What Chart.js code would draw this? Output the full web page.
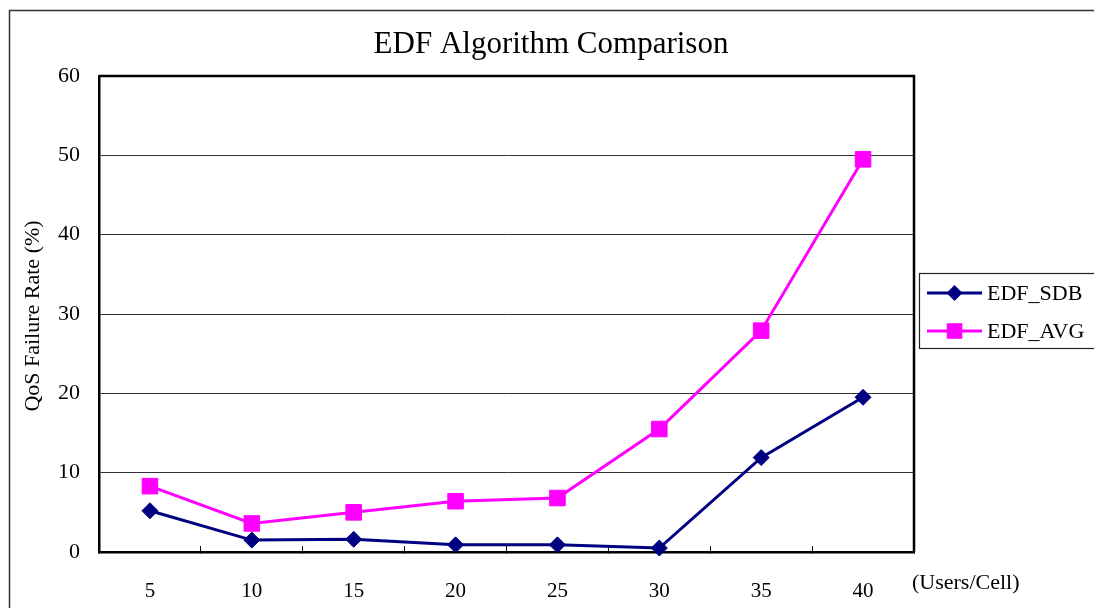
<!DOCTYPE html>
<html>
<head>
<meta charset="utf-8">
<script src="https://cdn.jsdelivr.net/npm/chart.js@4"></script>
<style>
  html, body { margin: 0; padding: 0; background: #fff; }
  #wrap { width: 1094px; height: 608px; position: relative; }
</style>
</head>
<body>
<div id="wrap"><canvas id="c" width="1094" height="608"></canvas></div>
<script>
// Users per cell on the x axis
const categories = ['5', '10', '15', '20', '25', '30', '35', '40'];
// QoS failure rate (%) for each scheduler variant
const sdbValues = [5.2, 1.5, 1.6, 0.9, 0.9, 0.5, 11.9, 19.5];
const avgValues = [8.3, 3.6, 5.0, 6.4, 6.8, 15.5, 27.9, 49.5];
const seriesNames = ['EDF_SDB', 'EDF_AVG'];
// y axis range and step
const yMin = 0, yMax = 60, yStep = 10;
const chartTitle = 'EDF Algorithm Comparison';
const yTitle = 'QoS Failure Rate (%)';
const xUnit = '(Users/Cell)';

const serif = '"Liberation Serif", "DejaVu Serif", "Times New Roman", serif';

function markerPath(ctx, style, r, x, y) {
  ctx.beginPath();
  if (style === 'rectRot') {
    ctx.moveTo(x - r, y); ctx.lineTo(x, y - r); ctx.lineTo(x + r, y); ctx.lineTo(x, y + r);
  } else {
    const s = Math.SQRT1_2 * r;
    ctx.rect(x - s, y - s, 2 * s, 2 * s);
  }
  ctx.closePath();
}

const decor = {
  id: 'decor',
  beforeDraw(chart) {
    const ctx = chart.ctx;
    ctx.save();
    ctx.fillStyle = '#fff';
    ctx.fillRect(0, 0, chart.width, chart.height);
    ctx.restore();
  },
  beforeDatasetsDraw(chart) {
    const ctx = chart.ctx, a = chart.chartArea;
    ctx.save();
    // top and right edges of the plot box
    ctx.strokeStyle = '#000';
    ctx.lineWidth = 2.5;
    ctx.beginPath();
    ctx.moveTo(a.left, a.top);
    ctx.lineTo(a.right, a.top);
    ctx.lineTo(a.right, a.bottom);
    ctx.stroke();
    ctx.restore();
  },
  afterDraw(chart) {
    const ctx = chart.ctx;
    ctx.save();
    // outer frame
    ctx.strokeStyle = '#333';
    ctx.lineWidth = 1.5;
    ctx.beginPath();
    ctx.moveTo(9.5, 700);
    ctx.lineTo(9.5, 10.5);
    ctx.lineTo(1100, 10.5);
    ctx.stroke();

    ctx.fillStyle = '#000';
    // title
    ctx.font = '31px ' + serif;
    ctx.textAlign = 'center';
    ctx.textBaseline = 'alphabetic';
    ctx.fillText(chartTitle, 551, 53);

    // y axis title
    ctx.save();
    ctx.translate(33, 316);
    ctx.rotate(-Math.PI / 2);
    ctx.font = '22px ' + serif;
    ctx.textAlign = 'center';
    ctx.textBaseline = 'middle';
    ctx.fillText(yTitle, 0, 0);
    ctx.restore();

    // unit label for the x axis
    ctx.font = '22px ' + serif;
    ctx.textAlign = 'left';
    ctx.textBaseline = 'middle';
    ctx.fillText(xUnit, 912, 583);

    // legend
    ctx.strokeStyle = '#222';
    ctx.lineWidth = 1.2;
    ctx.strokeRect(919.5, 273.5, 200, 75);
    const rows = [293, 331];
    chart.data.datasets.forEach((ds, i) => {
      const y = rows[i];
      ctx.strokeStyle = ds.borderColor;
      ctx.lineWidth = ds.borderWidth;
      ctx.beginPath();
      ctx.moveTo(927, y);
      ctx.lineTo(982, y);
      ctx.stroke();
      markerPath(ctx, ds.pointStyle, ds.pointRadius, 954.5, y);
      ctx.fillStyle = ds.pointBackgroundColor;
      ctx.fill();
      ctx.fillStyle = '#000';
      ctx.font = '22px ' + serif;
      ctx.textAlign = 'left';
      ctx.textBaseline = 'middle';
      ctx.fillText(ds.label, 987, y + 1);
    });
    ctx.restore();
  }
};

new Chart(document.getElementById('c'), {
  type: 'line',
  data: {
    labels: categories,
    datasets: [
      {
        label: seriesNames[0],
        data: sdbValues,
        borderColor: '#000080',
        backgroundColor: '#000080',
        pointBackgroundColor: '#000080',
        pointBorderColor: '#000080',
        borderWidth: 3,
        pointStyle: 'rectRot',
        pointRadius: 8,
        pointHoverRadius: 8,
        pointBorderWidth: 1,
        tension: 0,
        clip: false
      },
      {
        label: seriesNames[1],
        data: avgValues,
        borderColor: '#FF00FF',
        backgroundColor: '#FF00FF',
        pointBackgroundColor: '#FF00FF',
        pointBorderColor: '#FF00FF',
        borderWidth: 3,
        pointStyle: 'rect',
        pointRadius: 11,
        pointHoverRadius: 11,
        pointBorderWidth: 1,
        tension: 0,
        clip: false
      }
    ]
  },
  options: {
    responsive: false,
    animation: false,
    events: [],
    layout: { padding: { left: 0, top: 76, right: 180, bottom: 0 } },
    plugins: {
      legend: { display: false },
      title: { display: false },
      tooltip: { enabled: false }
    },
    scales: {
      x: {
        type: 'category',
        offset: true,
        border: { display: true, color: '#000', width: 2.5 },
        grid: {
          offset: true,
          drawOnChartArea: false,
          drawTicks: true,
          tickLength: -6,
          color: '#000',
          lineWidth: 1
        },
        ticks: {
          color: '#000',
          font: { family: serif, size: 21 },
          padding: 33,
          maxRotation: 0
        },
        afterFit(scale) { scale.height = 56; }
      },
      y: {
        min: yMin,
        max: yMax,
        border: { display: true, color: '#000', width: 2.5 },
        grid: {
          drawTicks: false,
          color: '#333',
          lineWidth: 1
        },
        ticks: {
          stepSize: yStep,
          color: '#000',
          font: { family: serif, size: 22 },
          padding: 19
        },
        afterFit(scale) { scale.width = 99; }
      }
    }
  },
  plugins: [decor]
});
</script>
</body>
</html>
